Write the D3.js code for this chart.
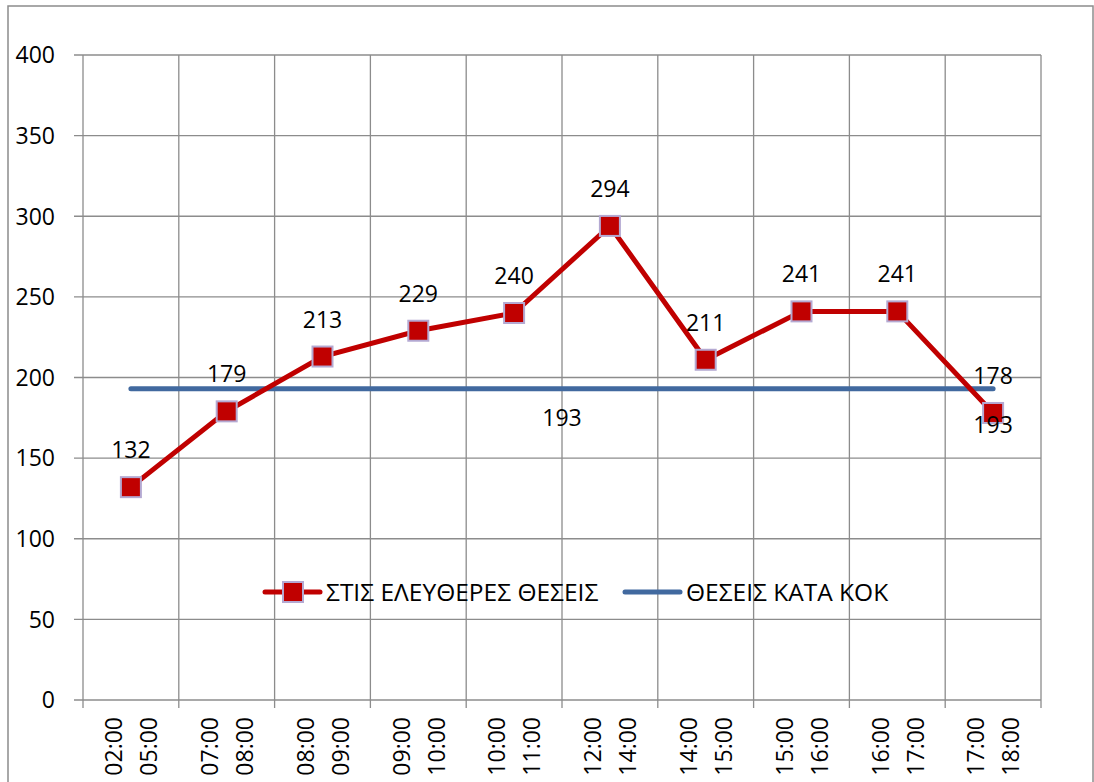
<!DOCTYPE html>
<html>
<head>
<meta charset="utf-8">
<script src="https://cdn.jsdelivr.net/npm/d3@7"></script>
<style>
  html, body { margin: 0; padding: 0; background: #fff; }
  svg { display: block; }
</style>
</head>
<body>
<svg id="chart" width="1094" height="782"></svg>
<script>
// categories: two-line time ranges
const slotFrom = ['02:00', '07:00', '08:00', '09:00', '10:00', '12:00', '14:00', '15:00', '16:00', '17:00'];
const slotTo   = ['05:00', '08:00', '09:00', '10:00', '11:00', '14:00', '15:00', '16:00', '17:00', '18:00'];
const freeSeats = [132, 179, 213, 229, 240, 294, 211, 241, 241, 178];
const kokSeats = [193, 193, 193];          // flat reference line
const kokLabelIdx = [1, 2];                // which kok points carry a label
const yTicks = [0, 50, 100, 150, 200, 250, 300, 350, 400];
const legendNames = ['ΣΤΙΣ ΕΛΕΥΘΕΡΕΣ ΘΕΣΕΙΣ', 'ΘΕΣΕΙΣ ΚΑΤΑ ΚΟΚ'];

const font = '"Open Sans", sans-serif';
const fs = 23;
const grid = '#8c8c8c', red = '#c00000', blue = '#41699f', markStroke = '#b4a9d2';

const svg = d3.select('#chart');
const pL = 83, pR = 1041, pT = 55, pB = 700;

// chart frame
svg.append('rect').attr('x', 8).attr('y', 6).attr('width', 1085).attr('height', 800)
  .attr('fill', 'none').attr('stroke', grid).attr('stroke-width', 1.5);

const x = d3.scaleBand().domain(d3.range(slotFrom.length)).range([pL, pR]);
const xc = i => x(i) + x.bandwidth() / 2;
const y = d3.scaleLinear().domain([0, 400]).range([pB, pT]);

// horizontal grid + y ticks
const g = svg.append('g');
yTicks.forEach(t => {
  g.append('line').attr('x1', pL - 9).attr('x2', pR).attr('y1', y(t)).attr('y2', y(t))
    .attr('stroke', grid).attr('stroke-width', 1.3);
  g.append('text').attr('x', 55).attr('y', y(t)).attr('dy', '0.36em')
    .attr('text-anchor', 'end').attr('font-family', font).attr('font-size', fs)
    .attr('fill', '#000').text(t);
});
// vertical grid at category boundaries + x ticks
d3.range(slotFrom.length + 1).forEach(i => {
  const xx = pL + i * x.bandwidth();
  g.append('line').attr('x1', xx).attr('x2', xx).attr('y1', pT).attr('y2', pB + 8)
    .attr('stroke', grid).attr('stroke-width', 1.3);
});

// x labels, rotated, two lines each
slotFrom.forEach((s, i) => {
  [[s, -17], [slotTo[i], 18]].forEach(([txt, dx]) => {
    const tx = xc(i) + dx, ty = 717;
    svg.append('text').attr('transform', `translate(${tx},${ty}) rotate(-90)`)
      .attr('text-anchor', 'end').attr('dy', '0.36em')
      .attr('font-family', font).attr('font-size', fs).attr('fill', '#000').text(txt);
  });
});

// kok flat line on its own positional scale (first to last category)
const xk = d3.scaleLinear().domain([0, kokSeats.length - 1]).range([xc(0), xc(slotFrom.length - 1)]);
svg.append('path').datum(kokSeats)
  .attr('d', d3.line().x((d, i) => xk(i)).y(d => y(d)))
  .attr('fill', 'none').attr('stroke', blue).attr('stroke-width', 5).attr('stroke-linecap', 'round');

// free seats line
svg.append('path').datum(freeSeats)
  .attr('d', d3.line().x((d, i) => xc(i)).y(d => y(d)))
  .attr('fill', 'none').attr('stroke', red).attr('stroke-width', 5);
freeSeats.forEach((v, i) => {
  svg.append('rect').attr('x', xc(i) - 10).attr('y', y(v) - 10).attr('width', 20).attr('height', 20)
    .attr('fill', red).attr('stroke', markStroke).attr('stroke-width', 2);
});

// labels
freeSeats.forEach((v, i) => {
  svg.append('text').attr('x', xc(i)).attr('y', y(v) - 29).attr('text-anchor', 'middle')
    .attr('font-family', font).attr('font-size', fs).attr('fill', '#000').text(v);
});
kokLabelIdx.forEach((k, j) => {
  svg.append('text').attr('x', xk(k)).attr('y', y(kokSeats[k]) + 37 + j * 7).attr('text-anchor', 'middle')
    .attr('font-family', font).attr('font-size', fs).attr('fill', '#000').text(kokSeats[k]);
});

// legend
const ly = 592;
const lg = svg.append('g');
lg.append('line').attr('x1', 265).attr('x2', 320).attr('y1', ly).attr('y2', ly)
  .attr('stroke', red).attr('stroke-width', 5).attr('stroke-linecap', 'round');
lg.append('rect').attr('x', 283).attr('y', ly - 10).attr('width', 20).attr('height', 20)
  .attr('fill', red).attr('stroke', markStroke).attr('stroke-width', 2);
lg.append('text').attr('x', 326).attr('y', ly).attr('dy', '0.36em')
  .attr('font-family', font).attr('font-size', 24.5).attr('fill', '#000').text(legendNames[0]);
lg.append('line').attr('x1', 625).attr('x2', 680).attr('y1', ly).attr('y2', ly)
  .attr('stroke', blue).attr('stroke-width', 5).attr('stroke-linecap', 'round');
lg.append('text').attr('x', 686).attr('y', ly).attr('dy', '0.36em')
  .attr('font-family', font).attr('font-size', 24.5).attr('fill', '#000').text(legendNames[1]);
</script>
</body>
</html>
